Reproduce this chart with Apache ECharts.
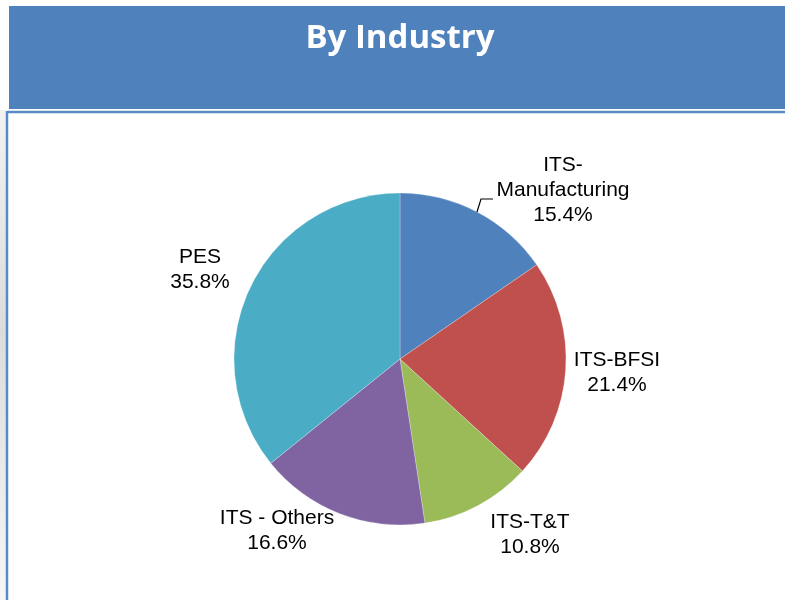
<!DOCTYPE html>
<html>
<head>
<meta charset="utf-8">
<script src="https://cdn.jsdelivr.net/npm/echarts@6/dist/echarts.min.js"></script>
<style>
html,body{margin:0;padding:0;background:#fff;}
#chart{width:785px;height:600px;}
</style>
</head>
<body>
<div id="chart"></div>
<script>
var title = 'By Industry';
var categories = ['ITS-\nManufacturing', 'ITS-BFSI', 'ITS-T&T', 'ITS - Others', 'PES'];
var values = [15.4, 21.4, 10.8, 16.6, 35.8];
var colors = ['#4F81BD', '#C0504D', '#9BBB59', '#8064A2', '#4BACC6'];

// label anchor positions (layout only)
var labelPos = [[563, 190], [617, 373], [530, 535], [277, 531], [200, 270]];

var chart = echarts.init(document.getElementById('chart'), null, {renderer: 'canvas'});

var data = categories.map(function (c, i) {
  return {
    name: c,
    value: values[i],
    itemStyle: {color: colors[i]}
  };
});

chart.setOption({
  animation: false,
  backgroundColor: '#fff',
  graphic: [
    {type: 'rect', z: 0, shape: {x: 0, y: 110, width: 6, height: 490},
      style: {fill: new echarts.graphic.LinearGradient(0, 0, 0, 1, [
        {offset: 0, color: '#f2f2f2'}, {offset: 0.45, color: '#dcdcdc'}, {offset: 1, color: '#f6f6f6'}])}},
    {type: 'rect', z: 0, shape: {x: 9, y: 6, width: 776, height: 103}, style: {fill: '#4F81BD'}},
    {type: 'line', z: 1, shape: {x1: 7, y1: 112, x2: 785, y2: 112}, style: {stroke: '#5A8AC6', lineWidth: 2.5}},
    {type: 'line', z: 1, shape: {x1: 7, y1: 111, x2: 7, y2: 600}, style: {stroke: '#5A8AC6', lineWidth: 2.5}},
    {type: 'polyline', z: 10, shape: {points: [[477, 212], [481, 199], [493, 199]]},
      style: {stroke: '#000', lineWidth: 1.2, fill: null}},
    {type: 'text', z: 2, x: 400, y: 39, style: {text: title, fill: '#ffffff',
      font: 'bold 33px "Open Sans", "DejaVu Sans", sans-serif', align: 'center', verticalAlign: 'middle'}}
  ],
  series: [{
    type: 'pie',
    center: [400, 359],
    radius: 166,
    startAngle: 90,
    clockwise: true,
    data: data,
    itemStyle: {borderColor: 'rgba(255,255,255,0.5)', borderWidth: 0.5},
    label: {
      show: true,
      position: 'outside',
      formatter: function (p) { return p.name + '\n' + p.value.toFixed(1) + '%'; },
      fontFamily: '"Liberation Sans", Arial, sans-serif',
      fontSize: 21,
      lineHeight: 25,
      color: '#000',
      align: 'center'
    },
    labelLine: {show: false},
    labelLayout: function (params) {
      var p = labelPos[params.dataIndex];
      return {x: p[0], y: p[1], align: 'center', verticalAlign: 'middle'};
    },
    emphasis: {disabled: true}
  }]
});
</script>
</body>
</html>
